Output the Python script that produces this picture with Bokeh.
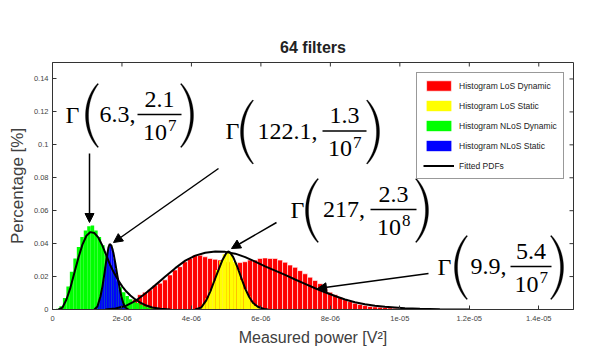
import numpy as np
from bokeh.plotting import figure
from bokeh.models import (Range1d, FixedTicker, Legend, LegendItem,
                          Arrow, NormalHead, Label)
from bokeh.embed import file_html
from bokeh.resources import INLINE

# ---------------- data ----------------
x_ticks = [0, 2e-6, 4e-6, 6e-6, 8e-6, 1e-5, 1.2e-5, 1.4e-5]
x_tick_labels = ["0", "2e-06", "4e-06", "6e-06", "8e-06", "1e-05", "1.2e-05", "1.4e-05"]
y_ticks = [0, 0.02, 0.04, 0.06, 0.08, 0.1, 0.12, 0.14]
y_tick_labels = ["0", "0.02", "0.04", "0.06", "0.08", "0.1", "0.12", "0.14"]

# histograms: left edge of first bin and bin width (in 1e-6 V^2), then percentages
los_dyn_start, los_dyn_width = 2.16, 0.144
los_dyn_pct = [0.004, 0.006, 0.009, 0.0105, 0.012, 0.0145, 0.016, 0.018, 0.021, 0.024,
               0.026, 0.029, 0.031, 0.033, 0.033, 0.032, 0.031, 0.0305, 0.030, 0.029,
               0.029, 0.028, 0.0285, 0.029, 0.030, 0.030, 0.031, 0.0313, 0.031, 0.031,
               0.030, 0.0287, 0.027, 0.0256, 0.0236, 0.0217, 0.0196, 0.0176, 0.0157, 0.0129,
               0.0105, 0.0089, 0.0075, 0.006, 0.0048, 0.0038, 0.003, 0.0024, 0.0018, 0.0016,
               0.0014, 0.0012, 0.0010, 0.0008, 0.0006, 0.0005, 0.0004, 0.0003, 0.0002, 0.0001]

los_sta_start, los_sta_width = 4.1, 0.1
los_sta_pct = [0.0003, 0.0012, 0.0035, 0.0068, 0.0115, 0.0175, 0.024, 0.0295, 0.0335, 0.0355,
               0.0335, 0.029, 0.024, 0.018, 0.0125, 0.008, 0.0045, 0.0022, 0.0009, 0.0003]

nlos_dyn_start, nlos_dyn_width = 0.1, 0.1
nlos_dyn_pct = [0.0005, 0.002, 0.007, 0.014, 0.023, 0.031, 0.038, 0.044, 0.048, 0.0505,
                0.051, 0.048, 0.044, 0.039, 0.033, 0.027, 0.022, 0.017, 0.0135, 0.0105,
                0.0082, 0.0062, 0.0046, 0.004, 0.003, 0.002, 0.0013, 0.0008, 0.0004]

nlos_sta_start, nlos_sta_width = 1.25, 0.05
nlos_sta_pct = [0.0008, 0.003, 0.0065, 0.012, 0.018, 0.026, 0.033, 0.038, 0.0395, 0.037,
                0.031, 0.0245, 0.018, 0.012, 0.007, 0.0035, 0.0012]

# fitted PDFs (x in 1e-6 V^2, y in %)
fit_nlos_dyn_x = [0.172, 0.287, 0.402, 0.517, 0.632, 0.747, 0.862, 0.977, 1.092, 1.207, 1.322,
                  1.437, 1.552, 1.667, 1.782, 1.897, 2.012, 2.127, 2.242, 2.386, 2.530, 2.702,
                  2.874, 3.104, 3.392]
fit_nlos_dyn_y = [0, 0.0012, 0.0061, 0.0133, 0.0224, 0.0315, 0.0394, 0.0448, 0.0470, 0.0464,
                  0.0436, 0.0388, 0.0327, 0.0267, 0.0218, 0.0176, 0.0139, 0.0109, 0.0085, 0.0061,
                  0.0042, 0.0024, 0.0012, 0.0004, 0.0]
fit_nlos_sta_x = [1.207, 1.293, 1.380, 1.437, 1.495, 1.552, 1.610, 1.647, 1.696, 1.753, 1.811,
                  1.868, 1.926, 1.983, 2.041, 2.098, 2.185]
fit_nlos_sta_y = [0, 0.0018, 0.0079, 0.0139, 0.0218, 0.0303, 0.0376, 0.0398, 0.0388, 0.0345,
                  0.0279, 0.0206, 0.0139, 0.0079, 0.0036, 0.0012, 0]
fit_los_sta_x = [4.110, 4.283, 4.427, 4.542, 4.657, 4.772, 4.886, 5.001, 5.059, 5.116, 5.203,
                 5.318, 5.433, 5.548, 5.663, 5.778, 5.921, 6.094, 6.209]
fit_los_sta_y = [0, 0.0012, 0.0055, 0.0109, 0.0173, 0.0236, 0.0297, 0.0342, 0.0353, 0.0345,
                 0.0318, 0.0261, 0.0194, 0.0127, 0.0076, 0.0039, 0.0015, 0.0003, 0]
fit_los_dyn_x = [1.523, 1.811, 2.098, 2.386, 2.673, 2.961, 3.248, 3.535, 3.823, 4.110, 4.398,
                 4.685, 4.973, 5.260, 5.548, 5.835, 6.122, 6.410, 6.697, 6.985, 7.272, 7.560,
                 7.847, 8.134, 8.422, 8.709, 8.997, 9.284, 9.572, 9.859, 10.147, 10.578,
                 11.153, 12.015]
fit_los_dyn_y = [0, 0.0006, 0.0021, 0.0052, 0.0097, 0.0148, 0.0200, 0.0251, 0.0297, 0.0327,
                 0.0345, 0.0352, 0.0350, 0.0339, 0.0318, 0.0291, 0.0262, 0.0236, 0.0210, 0.0182,
                 0.0156, 0.0129, 0.0105, 0.0082, 0.0061, 0.0044, 0.0032, 0.0023, 0.0016, 0.0012,
                 0.0008, 0.0004, 0.0002, 0]

# fitted Gamma parameters shown on the chart: (shape, scale numerator, exponent)
gamma_labels = [("6.3", "2.1", "7"), ("122.1", "1.3", "7"), ("217", "2.3", "8"), ("9.9", "5.4", "7")]

legend_labels = ["Histogram LoS Dynamic", "Histogram LoS Static", "Histogram NLoS Dynamic",
                 "Histogram NLoS Static", "Fitted PDFs"]

# ---------------- layout ----------------
W, H = 598, 364
FL, FR, FT, FB = 52, 573, 62, 309      # frame edges in page pixels
XMAX, YMAX = 1.5e-5, 0.15


def X(px):
    return (px - FL) / (FR - FL) * XMAX


def Y(py):
    return (FB - py) / (FB - FT) * YMAX


p = figure(width=W, height=H, output_backend="svg", toolbar_location=None,
           x_range=Range1d(0, XMAX), y_range=Range1d(0, YMAX),
           min_border_left=FL, min_border_right=W - FR,
           min_border_top=FT, min_border_bottom=H - FB)
p.background_fill_color = "white"
p.border_fill_color = "white"
p.outline_line_color = "#333333"
p.xgrid.visible = False
p.ygrid.visible = False

p.title.text = "64 filters"
p.title.align = "center"
p.title.text_font = "Liberation Sans"
p.title.text_font_size = "16px"
p.title.text_font_style = "bold"
p.title.text_color = "#222222"
p.title.standoff = 14


def style_axis(ax, ticks, labels):
    ax.ticker = FixedTicker(ticks=ticks)
    ax.major_tick_in = 4
    ax.major_tick_out = 0
    ax.minor_tick_line_color = None
    ax.axis_line_color = "#333333"
    ax.major_tick_line_color = "#333333"
    ax.major_label_overrides = {t: l for t, l in zip(ticks, labels)}
    ax.major_label_text_font = "Liberation Sans"
    ax.major_label_text_font_size = "7.5px"
    ax.major_label_text_color = "#444444"
    ax.axis_label_text_font = "Liberation Sans"
    ax.axis_label_text_font_style = "normal"
    ax.axis_label_text_color = "#404040"


style_axis(p.xaxis[0], x_ticks, x_tick_labels)
p.xaxis[0].axis_label = "Measured power [V²]"
p.xaxis[0].axis_label_text_font_size = "16px"
p.xaxis[0].major_label_standoff = 6
p.xaxis[0].axis_label_standoff = 5
style_axis(p.yaxis[0], y_ticks, y_tick_labels)
p.yaxis[0].axis_label = "Percentage [%]"
p.yaxis[0].axis_label_text_font_size = "17px"
p.yaxis[0].major_label_standoff = 4
p.yaxis[0].axis_label_standoff = 4

# inward ticks on the top and right edges of the box
tick_len_x = X(FL + 4) - X(FL)
tick_len_y = Y(FB - 4) - Y(FB)
p.segment(x0=x_ticks, y0=[YMAX] * len(x_ticks), x1=x_ticks,
          y1=[YMAX - tick_len_y] * len(x_ticks), line_color="#333333", line_width=1)
p.segment(x0=[XMAX] * len(y_ticks), y0=y_ticks, x1=[XMAX - tick_len_x] * len(y_ticks),
          y1=y_ticks, line_color="#333333", line_width=1)


def centers(start, width, n):
    return (start + (np.arange(n) + 0.5) * width) * 1e-6


r_red = p.vbar(x=centers(los_dyn_start, los_dyn_width, len(los_dyn_pct)), top=los_dyn_pct,
               width=los_dyn_width * 1e-6, bottom=0, fill_color="#ff0000",
               line_color="white", line_width=0.6)
r_yel = p.vbar(x=centers(los_sta_start, los_sta_width, len(los_sta_pct)), top=los_sta_pct,
               width=los_sta_width * 1e-6, bottom=0, fill_color="#ffff00", line_color=None)
r_grn = p.vbar(x=centers(nlos_dyn_start, nlos_dyn_width, len(nlos_dyn_pct)), top=nlos_dyn_pct,
               width=nlos_dyn_width * 1e-6, bottom=0, fill_color="#00ff00", line_color=None)
r_blu = p.vbar(x=centers(nlos_sta_start, nlos_sta_width, len(nlos_sta_pct)), top=nlos_sta_pct,
               width=nlos_sta_width * 1e-6, bottom=0, fill_color="#0000ff", line_color=None)

fits = [(fit_los_dyn_x, fit_los_dyn_y), (fit_los_sta_x, fit_los_sta_y),
        (fit_nlos_dyn_x, fit_nlos_dyn_y), (fit_nlos_sta_x, fit_nlos_sta_y)]
fit_renderers = []
for fx, fy in fits:
    fit_renderers.append(p.line(np.array(fx) * 1e-6, fy, line_color="black", line_width=2))

legend = Legend(items=[LegendItem(label=legend_labels[0], renderers=[r_red]),
                       LegendItem(label=legend_labels[1], renderers=[r_yel]),
                       LegendItem(label=legend_labels[2], renderers=[r_grn]),
                       LegendItem(label=legend_labels[3], renderers=[r_blu]),
                       LegendItem(label=legend_labels[4], renderers=[fit_renderers[0]])],
                location=(364, 130), glyph_width=31, glyph_height=13, label_height=13,
                spacing=7, padding=6, label_standoff=5, margin=0,
                label_text_font="Liberation Sans", label_text_font_size="8.5px",
                label_text_color="#222222", border_line_color="#333333",
                border_line_width=1, background_fill_color="white", background_fill_alpha=1)
p.add_layout(legend)

# ---------------- Gamma annotations ----------------
ann_layout = [dict(gx=65, cy=115, op=85, b0=137, b1=181, cl=181),
              dict(gx=225, cy=131.5, op=240, b0=322, b1=366, cl=367),
              dict(gx=290, cy=210, op=305, b0=370, b1=416, cl=416),
              dict(gx=437, cy=267, op=454, b0=510, b1=551, cl=551)]
FONT = "Liberation Serif"


def paren(x_bulge, x_tip, cy, half_h=32, thick=3.0, tip_thick=1.1, n=40):
    d = 1.0 if x_tip > x_bulge else -1.0
    t = np.linspace(0, 1, n)

    def cubic(tip, bulge, hh):
        c = (bulge - 0.25 * tip) / 0.75
        p0 = np.array([tip, cy - hh]); p1 = np.array([c, cy - hh * 0.45])
        p2 = np.array([c, cy + hh * 0.45]); p3 = np.array([tip, cy + hh])
        pts = (np.outer((1 - t) ** 3, p0) + np.outer(3 * (1 - t) ** 2 * t, p1)
               + np.outer(3 * (1 - t) * t ** 2, p2) + np.outer(t ** 3, p3))
        return pts

    outer = cubic(x_tip, x_bulge, half_h)
    inner = cubic(x_tip + d * tip_thick, x_bulge + d * thick, half_h - 0.5)[::-1]
    pts = np.vstack([outer, inner])
    return [X(v) for v in pts[:, 0]], [Y(v) for v in pts[:, 1]]


def label(x, y, text, size="24px", align="left"):
    # y is the vertical centre of the glyphs (page pixels)
    p.add_layout(Label(x=X(x), y=Y(y), text=text, text_font=FONT, text_font_size=size,
                       text_align=align, text_baseline="middle", text_color="black"))


for (shape, num, exp), L in zip(gamma_labels, ann_layout):
    cy = L["cy"]
    bar_y = cy - 1
    label(L["gx"], cy - 1, "Γ")
    label(0.5 * (L["op"] + 12 + L["b0"]), cy - 1, shape + ",", align="center")
    bc = 0.5 * (L["b0"] + L["b1"])
    label(bc, bar_y - 15.5, num, align="center")
    label(bc + 7.5, bar_y + 17.5, "10", align="right")
    label(bc + 8.5, bar_y + 11, exp, size="17px")
    p.segment(x0=[X(L["b0"])], y0=[Y(bar_y)], x1=[X(L["b1"])], y1=[Y(bar_y)],
              line_color="black", line_width=1.4)
    px_, py_ = paren(L["op"], L["op"] + 12, cy)
    p.patch(px_, py_, fill_color="black", line_color="black", line_width=0.3)
    px_, py_ = paren(L["cl"] + 12, L["cl"], cy)
    p.patch(px_, py_, fill_color="black", line_color="black", line_width=0.3)

# arrows from labels to fitted curves (page pixel endpoints)
arrows = [((89, 153), (89, 222)), ((218, 168), (113, 242)),
          ((276, 222), (231, 248)), ((428, 273), (317, 288))]
for (xs, ys), (xe, ye) in arrows:
    p.add_layout(Arrow(end=NormalHead(size=9, fill_color="black", line_color="black",
                                      line_width=1),
                       x_start=X(xs), y_start=Y(ys), x_end=X(xe), y_end=Y(ye),
                       line_color="black", line_width=1.5))

open("out.html", "w").write(file_html(p, INLINE))
